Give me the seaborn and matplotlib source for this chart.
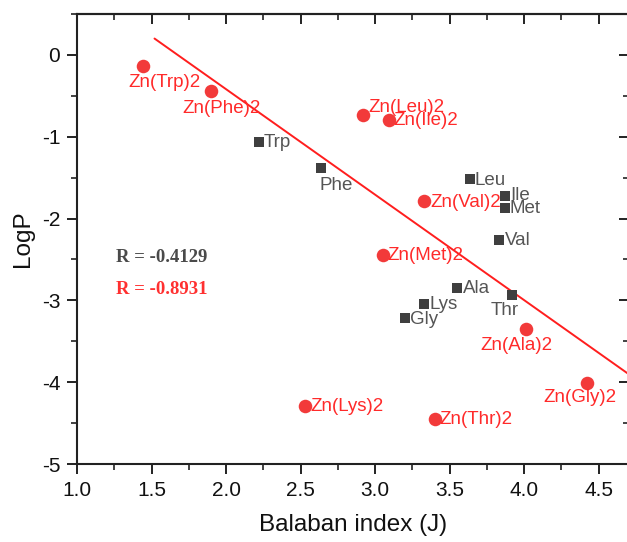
import matplotlib
matplotlib.use("Agg")
import matplotlib.pyplot as plt
import seaborn as sns
import pandas as pd
from matplotlib.ticker import MultipleLocator

# ---------------- data ----------------
amino_names = ["Trp", "Phe", "Leu", "Ile", "Met", "Val", "Ala", "Lys", "Gly", "Thr"]
amino_J = [2.22, 2.64, 3.635, 3.87, 3.87, 3.83, 3.55, 3.33, 3.20, 3.92]
amino_logP = [-1.07, -1.38, -1.52, -1.72, -1.87, -2.26, -2.85, -3.05, -3.21, -2.93]

zn_names = ["Zn(Trp)2", "Zn(Phe)2", "Zn(Leu)2", "Zn(Ile)2", "Zn(Val)2",
            "Zn(Met)2", "Zn(Ala)2", "Zn(Gly)2", "Zn(Lys)2", "Zn(Thr)2"]
zn_J = [1.445, 1.90, 2.92, 3.09, 3.33, 3.05, 4.01, 4.42, 2.53, 3.40]
zn_logP = [-0.14, -0.44, -0.73, -0.79, -1.79, -2.44, -3.35, -4.01, -4.29, -4.45]

fit_J = [1.52, 4.70]
fit_logP = [0.20, -3.90]

r_labels = ["R = -0.4129", "R = -0.8931"]

# label offsets in pixels (dx, dy up-positive) and horizontal alignment
amino_off = {"Trp": (5, 0, "left"), "Phe": (-2, -18, "left"), "Leu": (5, -1, "left"),
             "Ile": (5, 0, "left"), "Met": (5, -1, "left"), "Val": (6, -1, "left"),
             "Ala": (6, 0, "left"), "Lys": (5, 0, "left"), "Gly": (5, -2, "left"),
             "Thr": (-8, -16, "center")}
zn_off = {"Zn(Trp)2": (21, -16, "center"), "Zn(Phe)2": (10, -18, "center"),
          "Zn(Leu)2": (5, 7, "left"), "Zn(Ile)2": (5, -1, "left"),
          "Zn(Val)2": (6, -1, "left"), "Zn(Met)2": (5, -1, "left"),
          "Zn(Ala)2": (-9, -16, "center"), "Zn(Gly)2": (-7, -15, "center"),
          "Zn(Lys)2": (5, -1, "left"), "Zn(Thr)2": (5, 0, "left")}

sns.set_theme(style="white")
plt.rcParams["font.family"] = ["Liberation Sans", "DejaVu Sans"]

RED = "#F23A3A"
RED_TXT = "#FF2A2A"
GRAY = "#3F3F3F"
GRAY_TXT = "#555555"

fig = plt.figure(figsize=(6.27, 5.42), dpi=100)
ax = fig.add_axes([77 / 627, 78 / 542, (628.5 - 77) / 627, 450 / 542])

df_a = pd.DataFrame({"J": amino_J, "logP": amino_logP, "name": amino_names})
df_z = pd.DataFrame({"J": zn_J, "logP": zn_logP, "name": zn_names})

sns.lineplot(x=fit_J, y=fit_logP, ax=ax, color="#FF1E1E", linewidth=1.4, zorder=2)
sns.scatterplot(data=df_a, x="J", y="logP", ax=ax, marker="s", s=55,
                color=GRAY, edgecolor=GRAY, linewidth=0, zorder=3)
sns.scatterplot(data=df_z, x="J", y="logP", ax=ax, marker="o", s=95,
                color=RED, edgecolor=RED, linewidth=0, zorder=3)

for n, x, y in zip(amino_names, amino_J, amino_logP):
    dx, dy, ha = amino_off[n]
    ax.annotate(n, (x, y), xytext=(dx, dy), textcoords="offset pixels",
                ha=ha, va="center", fontsize=13.5, color=GRAY_TXT, zorder=4)
for n, x, y in zip(zn_names, zn_J, zn_logP):
    dx, dy, ha = zn_off[n]
    ax.annotate(n, (x, y), xytext=(dx, dy), textcoords="offset pixels",
                ha=ha, va="center", fontsize=13.5, color=RED_TXT, zorder=4)

ax.text(116 / 627, 258, r_labels[0], transform=fig.transFigure, visible=False)
fig.text(116 / 627, 1 - 258 / 542, r_labels[0], ha="left", va="center",
         fontsize=13.5, fontweight="bold", color="#4A4A4A",
         family=["Liberation Serif", "DejaVu Serif"])
fig.text(116 / 627, 1 - 290 / 542, r_labels[1], ha="left", va="center",
         fontsize=13.5, fontweight="bold", color="#FF3030",
         family=["Liberation Serif", "DejaVu Serif"])

ax.set_xlim(1.0, 4.7)
ax.set_ylim(-5.0, 0.5)
ax.xaxis.set_major_locator(MultipleLocator(0.5))
ax.xaxis.set_minor_locator(MultipleLocator(0.25))
ax.yaxis.set_major_locator(MultipleLocator(1))
ax.yaxis.set_minor_locator(MultipleLocator(0.5))
ax.set_xticks([1.0, 1.5, 2.0, 2.5, 3.0, 3.5, 4.0, 4.5])
ax.set_xticklabels(["1.0", "1.5", "2.0", "2.5", "3.0", "3.5", "4.0", "4.5"])
ax.set_yticks([-5, -4, -3, -2, -1, 0])
ax.set_yticklabels(["-5", "-4", "-3", "-2", "-1", "0"])
ax.set_xlim(1.0, 4.7)
ax.set_ylim(-5.0, 0.5)

ax.tick_params(axis="both", which="major", direction="out", length=7, width=1.4,
               labelsize=15, color="#222222", labelcolor="#111111",
               bottom=True, left=True, pad=5)
ax.tick_params(axis="both", which="minor", direction="out", length=4, width=1.2,
               color="#222222", bottom=True, left=True)

for side in ["left", "bottom", "top", "right"]:
    ax.spines[side].set_visible(True)
    ax.spines[side].set_color("#222222")
    ax.spines[side].set_linewidth(1.5)

# mirrored ticks pointing inward on top and right
top = ax.secondary_xaxis("top")
top.xaxis.set_major_locator(MultipleLocator(0.5))
top.xaxis.set_minor_locator(MultipleLocator(0.25))
top.tick_params(which="major", direction="in", length=7, width=1.4, labeltop=False,
                color="#222222")
top.tick_params(which="minor", direction="in", length=4, width=1.2, color="#222222")
top.spines["top"].set_linewidth(1.5)
top.spines["top"].set_color("#222222")
right = ax.secondary_yaxis("right")
right.yaxis.set_major_locator(MultipleLocator(1))
right.yaxis.set_minor_locator(MultipleLocator(0.5))
right.tick_params(which="major", direction="in", length=7, width=1.4, labelright=False,
                  color="#222222")
right.tick_params(which="minor", direction="in", length=4, width=1.2, color="#222222")

ax.set_xlabel("Balaban index (J)", fontsize=17.5, color="#111111", labelpad=10)
ax.set_ylabel("LogP", fontsize=17.5, color="#111111", labelpad=6)

fig.savefig("out.png", dpi=100)
